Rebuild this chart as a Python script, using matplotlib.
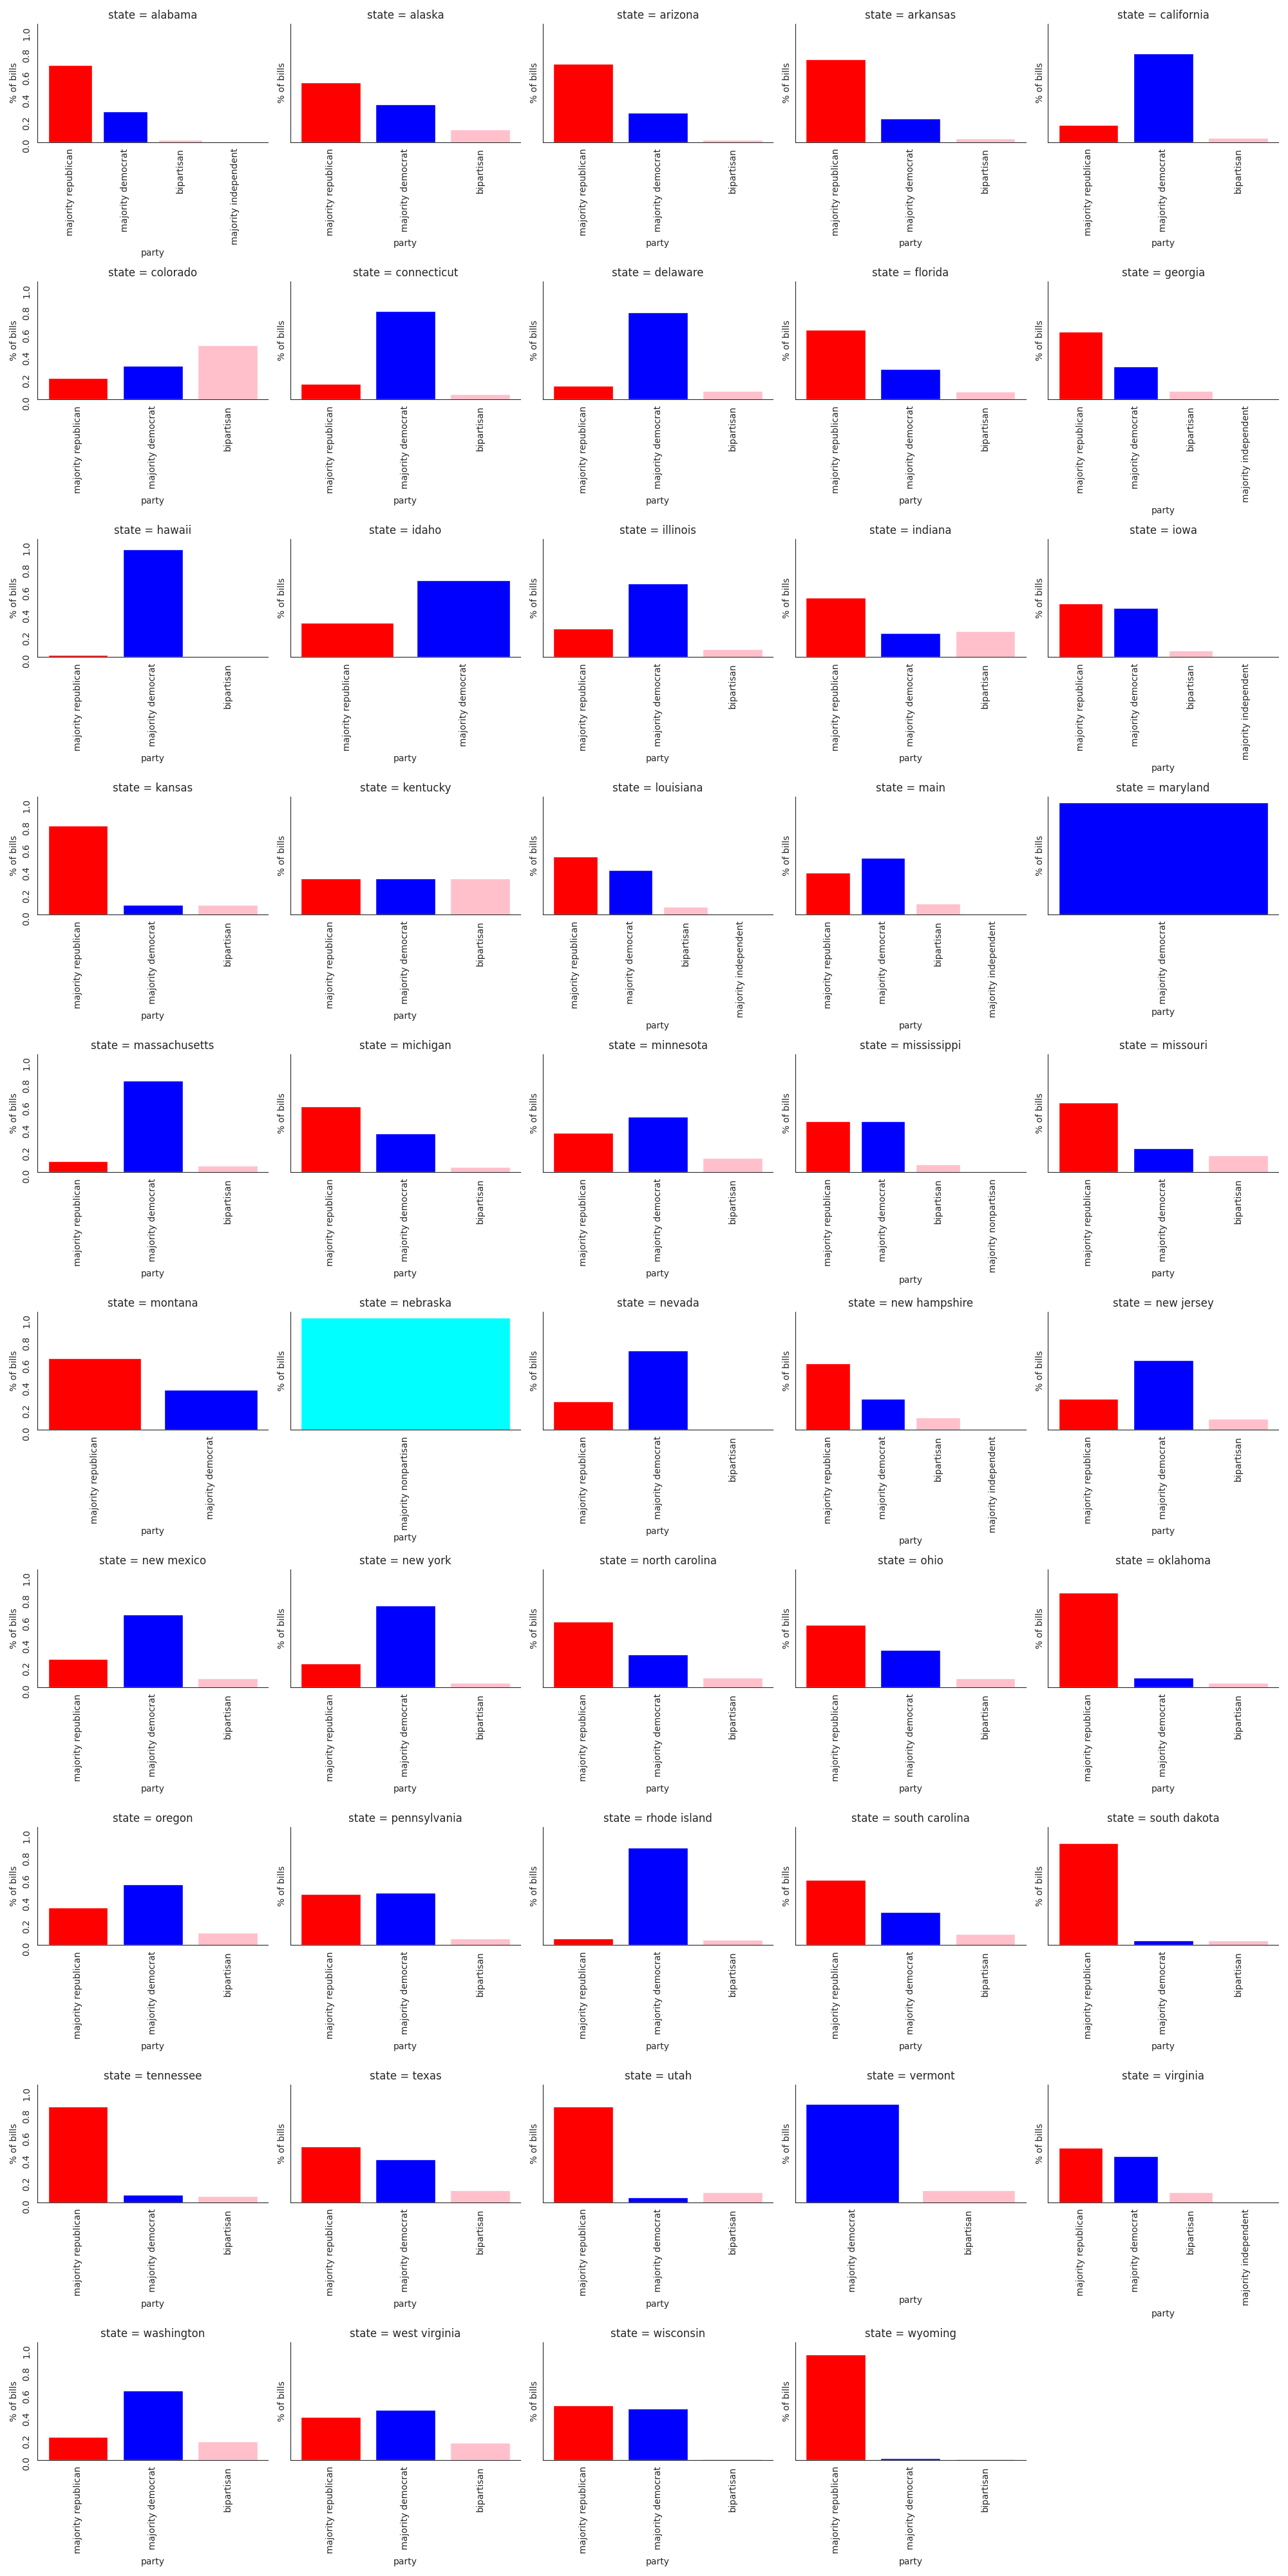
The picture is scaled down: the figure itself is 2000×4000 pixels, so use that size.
import matplotlib
matplotlib.use("Agg")
import matplotlib.pyplot as plt
import seaborn as sns

sns.set_style("white")
plt.rcParams['font.family'] = ['DejaVu Sans']

states = ["alabama", "alaska", "arizona", "arkansas", "california",
          "colorado", "connecticut", "delaware", "florida", "georgia",
          "hawaii", "idaho", "illinois", "indiana", "iowa",
          "kansas", "kentucky", "louisiana", "main", "maryland",
          "massachusetts", "michigan", "minnesota", "mississippi", "missouri",
          "montana", "nebraska", "nevada", "new hampshire", "new jersey",
          "new mexico", "new york", "north carolina", "ohio", "oklahoma",
          "oregon", "pennsylvania", "rhode island", "south carolina", "south dakota",
          "tennessee", "texas", "utah", "vermont", "virginia",
          "washington", "west virginia", "wisconsin", "wyoming"]

party_order = ["majority republican", "majority democrat", "bipartisan",
               "majority independent", "majority nonpartisan"]
party_colors = ["red", "blue", "pink", "gray", "cyan"]

# share of bills per state (None = category absent for that state)
rep = [0.687, 0.533, 0.698, 0.738, 0.152,
       0.194, 0.142, 0.123, 0.624, 0.607,
       0.021, 0.306, 0.254, 0.527, 0.476,
       0.795, 0.325, 0.516, 0.374, None,
       0.101, 0.584, 0.351, 0.454, 0.619,
       0.635, None, 0.256, 0.594, 0.275,
       0.254, 0.214, 0.584, 0.556, 0.846,
       0.334, 0.454, 0.061, 0.579, 0.909,
       0.852, 0.499, 0.852, None, 0.488,
       0.205, 0.385, 0.49, 0.94]
dem = [0.271, 0.334, 0.260, 0.209, 0.789,
       0.302, 0.789, 0.778, 0.271, 0.294,
       0.960, 0.687, 0.658, 0.214, 0.436,
       0.089, 0.325, 0.397, 0.505, 1.0,
       0.818, 0.345, 0.493, 0.454, 0.214,
       0.356, None, 0.708, 0.275, 0.62,
       0.647, 0.727, 0.294, 0.334, 0.089,
       0.539, 0.465, 0.869, 0.294, 0.044,
       0.072, 0.385, 0.044, 0.880, 0.414,
       0.619, 0.449, 0.46, 0.02]
bip = [0.023, 0.112, 0.023, 0.034, 0.040,
       0.482, 0.049, 0.080, 0.072, 0.080,
       0.009, None, 0.072, 0.231, 0.061,
       0.089, 0.325, 0.072, 0.101, None,
       0.061, 0.049, 0.129, 0.072, 0.152,
       None, None, 0.01, 0.11, 0.10,
       0.083, 0.044, 0.089, 0.083, 0.044,
       0.112, 0.061, 0.049, 0.101, 0.044,
       0.061, 0.112, 0.095, 0.112, 0.095,
       0.165, 0.153, 0.01, 0.01]
ind = [0.0, None, None, None, None,
       None, None, None, None, 0.0,
       None, None, None, None, 0.0,
       None, None, 0.0, 0.0, None,
       None, None, None, None, None,
       None, None, None, 0.0, None,
       None, None, None, None, None,
       None, None, None, None, None,
       None, None, None, None, 0.0,
       None, None, None, None]
nonp = [None] * 23 + [0.0] + [None] * 2 + [1.0] + [None] * 22

series = [rep, dem, bip, ind, nonp]

ncols = 5
nrows = 10
fig, axes = plt.subplots(nrows, ncols, figsize=(20, 40), dpi=100, sharey=True)
axes = axes.ravel()

for i, state in enumerate(states):
    ax = axes[i]
    cats, vals, cols = [], [], []
    for p, s, c in zip(party_order, series, party_colors):
        if s[i] is not None:
            cats.append(p)
            vals.append(s[i])
            cols.append(c)
    ax.bar(cats, vals, color=cols)
    ax.set_title(f"state = {state}")
    ax.set_xlabel("party")
    ax.set_ylabel("% of bills")
    ax.tick_params(axis="both", labelrotation=90)
    if i % ncols != 0:
        ax.tick_params(axis="y", labelleft=False)
    sns.despine(ax=ax)

for j in range(len(states), nrows * ncols):
    axes[j].remove()

fig.tight_layout()
fig.savefig("out.png", dpi=100)
